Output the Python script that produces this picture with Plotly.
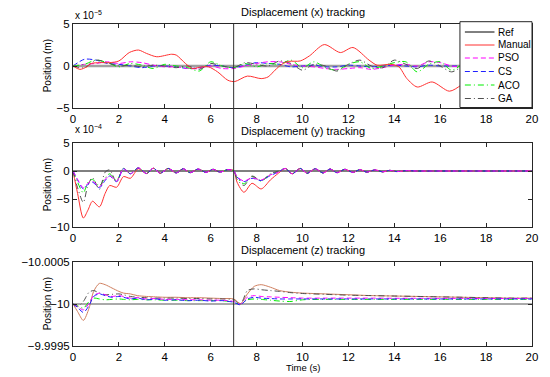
import plotly.graph_objects as go

# ---------------- data ----------------
time_ticks = [0, 2, 4, 6, 8, 10, 12, 14, 16, 18, 20]

# Panel 1: displacement x (units of 1e-5 m)
t_x = [0, 0.5, 1, 1.5, 2, 2.5, 3, 3.5, 4, 4.5, 5, 5.5, 6, 6.5, 7, 7.5, 8, 8.5, 9, 9.5,
       10, 10.5, 11, 11.5, 12, 12.5, 13, 13.5, 14, 14.5, 15, 15.5, 16, 16.5, 17, 17.5,
       18, 18.5, 19, 19.5, 20]
x_pso = [0, 0.2, 0.3, 0.5, 0.3, 0.5, 0.4, 0.1, -0.1, -0.1, -0.3, -0.3, 0.0, -0.3, -0.3,
         0.0, 0.3, 0.5, 0.5, 0.2, 0.0, -0.1, -0.3, -0.4, -0.3, -0.2, -0.4, -0.2, 0.1, 0.2,
         0.0, 0.5, 0.4, 0.0, -0.1, 0.0, 0.1, 0.0, 0.0, 0.0, 0.0]
x_cs = [0, 0.8, 0.7, 0.3, 0.2, 0.0, -0.2, 0.0, 0.0, -0.1, -0.3, -0.2, 0.1, 0.0, -0.2,
        0.1, 0.4, 0.3, 0.2, -0.1, 0.0, 0.1, -0.1, -0.1, 0.1, 0.0, -0.1, 0.0, 0.1, 0.0,
        -0.1, 0.1, 0.0, 0.0, 0.0, 0.0, 0.0, 0.0, 0.0, 0.0, 0.0]
x_aco = [0, 0.2, 0.7, 0.4, -0.1, 0.3, 0.1, -0.3, 0.2, 0.0, -0.2, -0.6, 0.5, 0.0, -0.2,
         0.3, -0.1, 0.3, 0.2, 0.7, -0.2, 0.5, -0.2, -0.5, 0.2, 0.5, -0.3, 0.0, 0.4, 0.5,
         -0.7, 0.2, 0.5, -0.5, 0.2, 0.0, -0.2, 0.1, 0.0, 0.0, 0.0]
x_ga = [0, -0.2, 0.7, 0.4, 0.0, 0.1, -0.1, 0.1, 0.0, -0.2, 0.0, -0.4, 0.3, 0.0, -0.2,
        0.4, 0.2, 0.0, 0.6, 0.3, -0.5, 0.2, 0.0, -0.6, 0.2, 0.7, 0.0, -0.2, 0.7, 0.2,
        -0.3, 0.6, 0.0, -0.7, 0.0, 0.3, 0.0, 0.0, 0.0, 0.0, 0.0]
t_x_manual = [0, 0.3, 0.6, 0.8, 1.15, 1.6, 2.0, 2.45, 2.85, 3.2, 3.65, 4.3, 4.5, 4.9, 5.2,
              5.5, 5.9, 6.3, 6.75, 7.05, 7.6, 8.2, 8.5, 8.8, 9.1, 9.4, 9.9, 10.3, 10.95,
              11.65, 12.2, 12.9, 13.25, 13.85, 14.2, 14.55, 15.0, 15.65, 16.4, 16.9, 17.5,
              18.5, 20]
x_manual = [0, -0.4, -0.1, 0.3, 0.4, 0.4, 0.6, 1.6, 1.9, 1.5, 1.1, 1.4, 1.3, 0.3, -0.3,
            -0.15, -0.1, -0.7, -1.7, -1.85, -1.2, -1.5, -1.3, -0.5, 0.2, 0.55, 0.6, 1.2,
            2.55, 1.6, 2.2, 0.7, 0.1, 0.2, -0.1, -1.5, -2.5, -1.9, -3.0, -2.3, -1.0, 0.3, 0]
t_ref = [0, 20]
x_ref = [0, 0]

# Panel 2: displacement y (units of 1e-4 m)
t_y = [0, 0.2, 0.45, 0.65, 0.85, 1.15, 1.4, 1.6, 1.9, 2.2, 2.5, 2.85, 3.2, 3.5, 3.8,
       4.15, 4.5, 4.8, 5.1, 5.45, 5.8, 6.1, 6.4, 6.75, 7.0, 7.15, 7.45, 7.8, 8.2, 8.6,
       8.95, 9.25, 9.55, 9.9, 10.2, 10.55, 10.9, 11.2, 11.5, 11.85, 12.2, 12.5, 12.8,
       13.15, 13.5, 13.8, 14.1, 14.5, 15, 16, 18, 20]
y_manual = [0, -4.0, -8.4, -7.0, -5.4, -6.4, -4.0, -2.6, -2.9, -1.0, -1.3, 0.4, -0.45,
            0.5, -0.4, 0.45, -0.35, 0.4, -0.3, 0.35, -0.25, 0.3, -0.2, 0.25, 0.05,
            -2.0, -3.8, -2.2, -3.2, -1.6, -0.4,
            0.45, -0.5, 0.45, -0.4, 0.4, -0.35, 0.35, -0.3, 0.3, -0.25, 0.25, -0.2, 0.2,
            -0.15, 0.12, -0.1, 0.05, 0, 0, 0, 0]
y_pso = [0, -1.5, -3.0, -2.2, -1.8, -2.8, -1.5, -0.8, -1.8, 0.4, -0.5, 0.55, -0.45,
         0.5, -0.4, 0.45, -0.35, 0.4, -0.3, 0.35, -0.25, 0.3, -0.2, 0.25, 0.05,
         -1.0, -1.8, -1.2, -1.6, -0.7, -0.2,
         0.45, -0.5, 0.45, -0.4, 0.4, -0.35, 0.35, -0.3, 0.3, -0.25, 0.25, -0.2, 0.2,
         -0.15, 0.12, -0.1, 0.05, 0, 0, 0, 0]
y_cs = [0, -1.6, -3.2, -2.4, -2.0, -3.0, -1.7, -0.9, -1.9, 0.4, -0.5, 0.55, -0.45,
        0.5, -0.4, 0.45, -0.35, 0.4, -0.3, 0.35, -0.25, 0.3, -0.2, 0.25, 0.05,
        -1.1, -1.9, -1.3, -1.7, -0.8, -0.2,
        0.45, -0.5, 0.45, -0.4, 0.4, -0.35, 0.35, -0.3, 0.3, -0.25, 0.25, -0.2, 0.2,
        -0.15, 0.12, -0.1, 0.05, 0, 0, 0, 0]
y_aco = [0, -2.0, -3.9, -2.0, -1.5, -2.6, -1.2, -0.5, -1.7, 0.5, -0.5, 0.55, -0.45,
         0.5, -0.4, 0.45, -0.35, 0.4, -0.3, 0.35, -0.25, 0.3, -0.2, 0.25, 0.05,
         -1.2, -2.3, -1.0, -1.8, -0.6, -0.1,
         0.45, -0.5, 0.45, -0.4, 0.4, -0.35, 0.35, -0.3, 0.3, -0.25, 0.25, -0.2, 0.2,
         -0.15, 0.12, -0.1, 0.05, 0, 0, 0, 0]
y_ga = [0, -3.0, -5.6, -2.5, -1.2, -3.3, -0.2, 0.2, -2.0, 0.5, -0.5, 0.55, -0.45,
        0.5, -0.4, 0.45, -0.35, 0.4, -0.3, 0.35, -0.25, 0.3, -0.2, 0.25, 0.05,
        -1.5, -2.6, -0.9, -1.7, -0.5, 0.0,
        0.45, -0.5, 0.45, -0.4, 0.4, -0.35, 0.35, -0.3, 0.3, -0.25, 0.25, -0.2, 0.2,
        -0.15, 0.12, -0.1, 0.05, 0, 0, 0, 0]
y_ref = [0, 0]

# Panel 3: displacement z (m)
t_z = [0, 0.2, 0.45, 0.7, 0.9, 1.15, 1.4, 1.7, 2.0, 2.2, 2.5, 2.8, 3.2, 3.6, 4.0, 4.5,
       5.0, 5.5, 6.0, 6.5, 7.0, 7.3, 7.6, 7.9, 8.2, 8.6, 9.0, 9.5, 10, 11, 12, 13, 14,
       15, 16, 17, 18, 19, 20]
z_manual = [-10.0, -9.99991, -9.999805, -9.99995, -10.00015, -10.000245, -10.00023,
            -10.00019, -10.00015, -10.00013, -10.00012, -10.0001, -10.00009, -10.000085,
            -10.00008, -10.00008, -10.000075, -10.000075, -10.00007, -10.000065, -10.00006,
            -10.000005, -10.00012, -10.00021, -10.00023, -10.0002, -10.00016, -10.00014,
            -10.00013, -10.00012, -10.00011, -10.0001, -10.000095, -10.00009, -10.000085,
            -10.00008, -10.000075, -10.00007, -10.00007]
z_pso = [-10.0, -9.99997, -9.99993, -10.00001, -10.0001, -10.00013, -10.00011, -10.00009,
         -10.0001, -10.00009, -10.00007, -10.000075, -10.00006, -10.000065, -10.000055,
         -10.000055, -10.00005, -10.00005, -10.000045, -10.000045, -10.00003,
         -10.0, -10.00008, -10.0001, -10.00009, -10.000085, -10.00008, -10.000075,
         -10.00007, -10.00007, -10.00007, -10.00007, -10.000068, -10.000068, -10.000067,
         -10.000067, -10.000066, -10.000066, -10.000066]
z_cs = [-10.0, -9.99996, -9.9999, -9.99998, -10.00009, -10.00012, -10.0001, -10.00008,
        -10.00009, -10.00008, -10.00006, -10.00007, -10.00005, -10.00006, -10.000045,
        -10.00005, -10.00004, -10.000045, -10.000035, -10.00004, -10.00002,
        -9.99999, -10.00006, -10.00008, -10.00007, -10.000065, -10.00006, -10.00006,
        -10.00006, -10.00006, -10.00006, -10.00006, -10.00006, -10.00006, -10.00006,
        -10.00006, -10.00006, -10.00006, -10.00006]
z_aco = [-10.0, -9.99998, -9.99995, -10.00003, -10.00007, -10.00006, -10.00005,
         -10.000055, -10.00006, -10.000055, -10.00005, -10.000055, -10.00005, -10.00005,
         -10.000045, -10.000045, -10.00004, -10.00004, -10.00004, -10.00004, -10.00002,
         -10.0, -10.00005, -10.00006, -10.000055, -10.000045, -10.000035, -10.00003,
         -10.00005, -10.000055, -10.000055, -10.000055, -10.000055, -10.000055,
         -10.000055, -10.000055, -10.000055, -10.000055, -10.000055]
z_ga = [-10.0, -9.99997, -10.00003, -10.00014, -10.00016, -10.00013, -10.00011,
        -10.000115, -10.00012, -10.00011, -10.00009, -10.00008, -10.000075, -10.00007,
        -10.00007, -10.00007, -10.000065, -10.000065, -10.00006, -10.00006, -10.00005,
        -10.0, -10.00016, -10.00018, -10.00017, -10.00016, -10.00015, -10.000135,
        -10.000125, -10.000115, -10.000105, -10.0001, -10.000095, -10.00009, -10.000085,
        -10.00008, -10.000075, -10.00007, -10.00007]
z_ref = [-10.0, -10.0]

series_names = ["Ref", "Manual", "PSO", "CS", "ACO", "GA"]
panel_titles = ["Displacement (x) tracking", "Displacement (y) tracking",
                "Displacement (z) tracking"]

# ---------------- styling ----------------
FONT = "Liberation Sans"
styles = {
    "Ref": dict(color="#000000", width=1, dash="solid"),
    "Manual": dict(color="#ff3030", width=1, dash="solid"),
    "PSO": dict(color="#ff00ff", width=1, dash="5px,3px"),
    "CS": dict(color="#2020ff", width=1, dash="5px,3px"),
    "ACO": dict(color="#00ee00", width=1, dash="6px,3px,1px,3px"),
    "GA": dict(color="#505050", width=1, dash="6px,3px,1px,3px"),
}

fig = go.Figure()


def add(tt, vv, name, xa, ya, style=None):
    st = dict(styles[name]) if style is None else style
    fig.add_trace(go.Scatter(x=tt, y=vv, mode="lines", name=name, xaxis=xa, yaxis=ya,
                             line=dict(color=st["color"], width=st["width"], dash=st["dash"],
                                       shape="spline", smoothing=0.8),
                             showlegend=False, hoverinfo="skip"))


# panel 1
add(t_ref, x_ref, "Ref", "x", "y", dict(color="#a0a0a0", width=2.4, dash="solid"))
add(t_x, x_cs, "CS", "x", "y")
add(t_x, x_pso, "PSO", "x", "y")
add(t_x, x_aco, "ACO", "x", "y")
add(t_x, x_ga, "GA", "x", "y")
add(t_x_manual, x_manual, "Manual", "x", "y")
# panel 2
add(t_ref, y_ref, "Ref", "x2", "y2")
add(t_y, y_manual, "Manual", "x2", "y2")
add(t_y, y_aco, "ACO", "x2", "y2")
add(t_y, y_ga, "GA", "x2", "y2")
add(t_y, y_cs, "CS", "x2", "y2")
add(t_y, y_pso, "PSO", "x2", "y2")
# panel 3
add(t_ref, z_ref, "Ref", "x3", "y3", dict(color="#555555", width=1, dash="solid"))
add(t_z, z_manual, "Manual", "x3", "y3", dict(color="#d08060", width=1, dash="solid"))
add(t_z, z_aco, "ACO", "x3", "y3")
add(t_z, z_ga, "GA", "x3", "y3")
add(t_z, z_pso, "PSO", "x3", "y3")
add(t_z, z_cs, "CS", "x3", "y3")

W, H = 550, 377
L, R, T, B = 73, 12, 24, 31
PW, PH = W - L - R, H - T - B


def px_x(p):
    return (p - L) / PW


def px_y(p):
    return (H - B - p) / PH


doms = [(px_y(108), px_y(24)), (px_y(227), px_y(143)), (px_y(346), px_y(262))]


def axis(**kw):
    d = dict(showline=True, mirror="ticks", ticks="inside", ticklen=4,
             tickcolor="#262626", linecolor="#262626", linewidth=1, showgrid=False,
             zeroline=False, tickfont=dict(family=FONT, size=11.5, color="#000"))
    d.update(kw)
    return d


layout = dict(
    width=W, height=H, margin=dict(l=L, r=R, t=T, b=B),
    paper_bgcolor="white", plot_bgcolor="white", showlegend=False,
    xaxis=axis(domain=[0, 1], anchor="y", range=[0, 20], tickvals=time_ticks),
    xaxis2=axis(domain=[0, 1], anchor="y2", range=[0, 20], tickvals=time_ticks),
    xaxis3=axis(domain=[0, 1], anchor="y3", range=[0, 20], tickvals=time_ticks),
    yaxis=axis(domain=list(doms[0]), anchor="x", range=[-5, 5], tickvals=[-5, 0, 5]),
    yaxis2=axis(domain=list(doms[1]), anchor="x2", range=[-10, 5],
                tickvals=[-10, -5, 0, 5]),
    yaxis3=axis(domain=list(doms[2]), anchor="x3", range=[-9.9995, -10.0005],
                tickvals=[-10.0005, -10.0, -9.9995],
                ticktext=["\u221210.0005", "\u221210", "\u22129.9995"]),
)
fig.update_layout(**layout)

shapes = []
# vertical line at t = 7 spanning all panels
shapes.append(dict(type="line", xref="x", yref="paper", x0=7, x1=7, y0=0, y1=1,
                   line=dict(color="#303030", width=1), layer="above"))
# legend box
lx0, lx1 = px_x(465), px_x(538)
ly0, ly1 = px_y(107.5), px_y(21.7)
shapes.append(dict(type="rect", xref="paper", yref="paper", x0=lx0, x1=lx1, y0=ly0, y1=ly1,
                   fillcolor="white", line=dict(color="#262626", width=1), layer="above"))
annotations = []
leg_y = [32, 45, 58, 71.5, 85, 98.5]
for name, py in zip(series_names, leg_y):
    st = styles[name]
    shapes.append(dict(type="line", xref="paper", yref="paper", x0=px_x(470), x1=px_x(500),
                       y0=px_y(py), y1=px_y(py),
                       line=dict(color=st["color"], width=1, dash=st["dash"]),
                       layer="above"))
    annotations.append(dict(xref="paper", yref="paper", x=px_x(502), y=px_y(py),
                            text=name, showarrow=False, xanchor="left", yanchor="middle",
                            font=dict(family=FONT, size=10, color="#000")))

# panel titles
for title, py in zip(panel_titles, [12, 130.5, 249.5]):
    annotations.append(dict(xref="paper", yref="paper", x=0.5, y=px_y(py), text=title,
                            showarrow=False, xanchor="center", yanchor="middle",
                            font=dict(family=FONT, size=11, color="#000")))
# exponent labels
for txt, py in [("x 10<sup>\u22125</sup>", 15), ("x 10<sup>\u22124</sup>", 129)]:
    annotations.append(dict(xref="paper", yref="paper", x=px_x(73), y=px_y(py), text=txt,
                            showarrow=False, xanchor="left", yanchor="middle",
                            font=dict(family=FONT, size=10, color="#000")))
# y axis titles
for d in doms:
    annotations.append(dict(xref="paper", yref="paper", x=px_x(47), y=(d[0] + d[1]) / 2,
                            text="Position (m)", textangle=-90, showarrow=False,
                            xanchor="center", yanchor="middle",
                            font=dict(family=FONT, size=10, color="#000")))
# x axis title
annotations.append(dict(xref="paper", yref="paper", x=0.5, y=px_y(367), text="Time (s)",
                        showarrow=False, xanchor="center", yanchor="middle",
                        font=dict(family=FONT, size=9.5, color="#000")))

fig.update_layout(shapes=shapes, annotations=annotations)
fig.write_html("out.html", config={"displayModeBar": False},
               post_script="document.body.style.margin='0';document.body.style.overflow='hidden';")
